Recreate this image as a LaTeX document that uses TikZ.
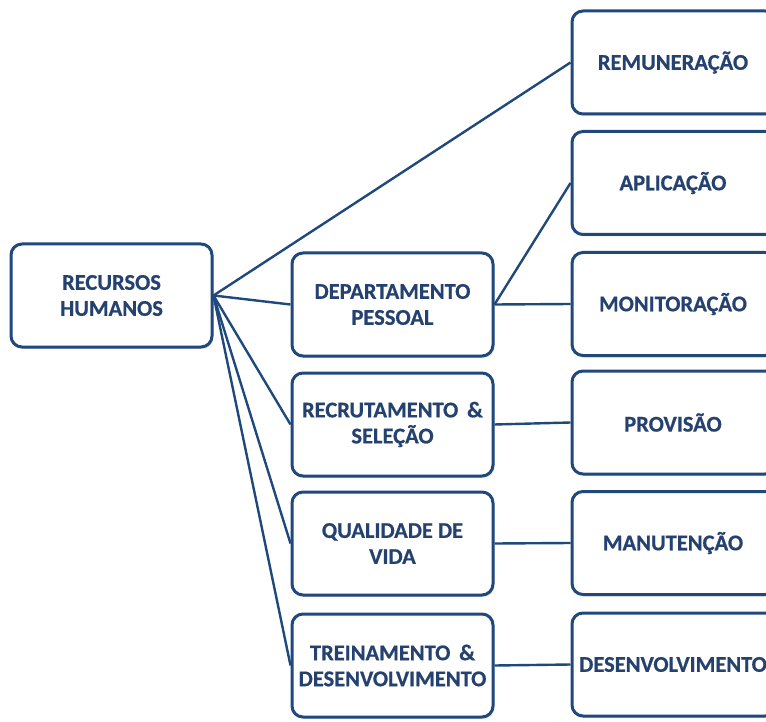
\documentclass[tikz,border=0pt]{standalone}
\usepackage{fontspec}
\setmainfont[BoldFeatures={FakeBold=0.6}]{Carlito}
\usetikzlibrary{shadows}
\definecolor{navy}{HTML}{1F497D}
\definecolor{txtblue}{HTML}{24416F}
\tikzset{
  box/.style={draw=navy, line width=3pt, rounded corners=11pt, fill=white,
    minimum width=201pt, minimum height=103pt, inner sep=0pt,
    drop shadow={opacity=0.22, shadow xshift=1.5pt, shadow yshift=-2pt},
    font=\fontsize{22.5}{26}\selectfont\bfseries, text=txtblue, align=center},
  rbox/.style={box, minimum width=204pt, text width=200pt, xshift=0pt},
  link/.style={draw=navy, line width=2.4pt}
}
\begin{document}
\begin{tikzpicture}[x=1pt,y=-1pt]
\useasboundingbox (0,0) rectangle (766,722);
\clip (0,0) rectangle (766,722);
\node[box] (rh) at (111.5,295.5) {RECURSOS\\HUMANOS};
\node[box] (dp) at (392.5,304.5) {DEPARTAMENTO\\PESSOAL};
\node[box] (rs) at (392.5,424.5) {RECRUTAMENTO \,\&\\SELEÇÃO};
\node[box] (qv) at (392.5,543.5) {QUALIDADE DE\\VIDA};
\node[box] (td) at (392.5,665.5) {TREINAMENTO \,\&\\DESENVOLVIMENTO};
\node[rbox] (re) at (674,62.5) {\hspace*{-2pt}REMUNERAÇÃO};
\node[rbox] (ap) at (674,183) {\hspace*{-2pt}APLICAÇÃO};
\node[rbox] (mo) at (674,304) {\hspace*{-2pt}MONITORAÇÃO};
\node[rbox] (pr) at (674,422.5) {\hspace*{-2pt}PROVISÃO};
\node[rbox] (ma) at (674,543) {\hspace*{-2pt}MANUTENÇÃO};
\node[rbox] (de) at (674,664.5) {\hspace*{-2pt}DESENVOLVIMENTO};
\draw[link] (rh.east) -- (re.west);
\draw[link] (rh.east) -- (dp.west);
\draw[link] (rh.east) -- (rs.west);
\draw[link] (rh.east) -- (qv.west);
\draw[link] (rh.east) -- (td.west);
\draw[link] (dp.east) -- (ap.west);
\draw[link] (dp.east) -- (mo.west);
\draw[link] (rs.east) -- (pr.west);
\draw[link] (qv.east) -- (ma.west);
\draw[link] (td.east) -- (de.west);
\end{tikzpicture}
\end{document}
